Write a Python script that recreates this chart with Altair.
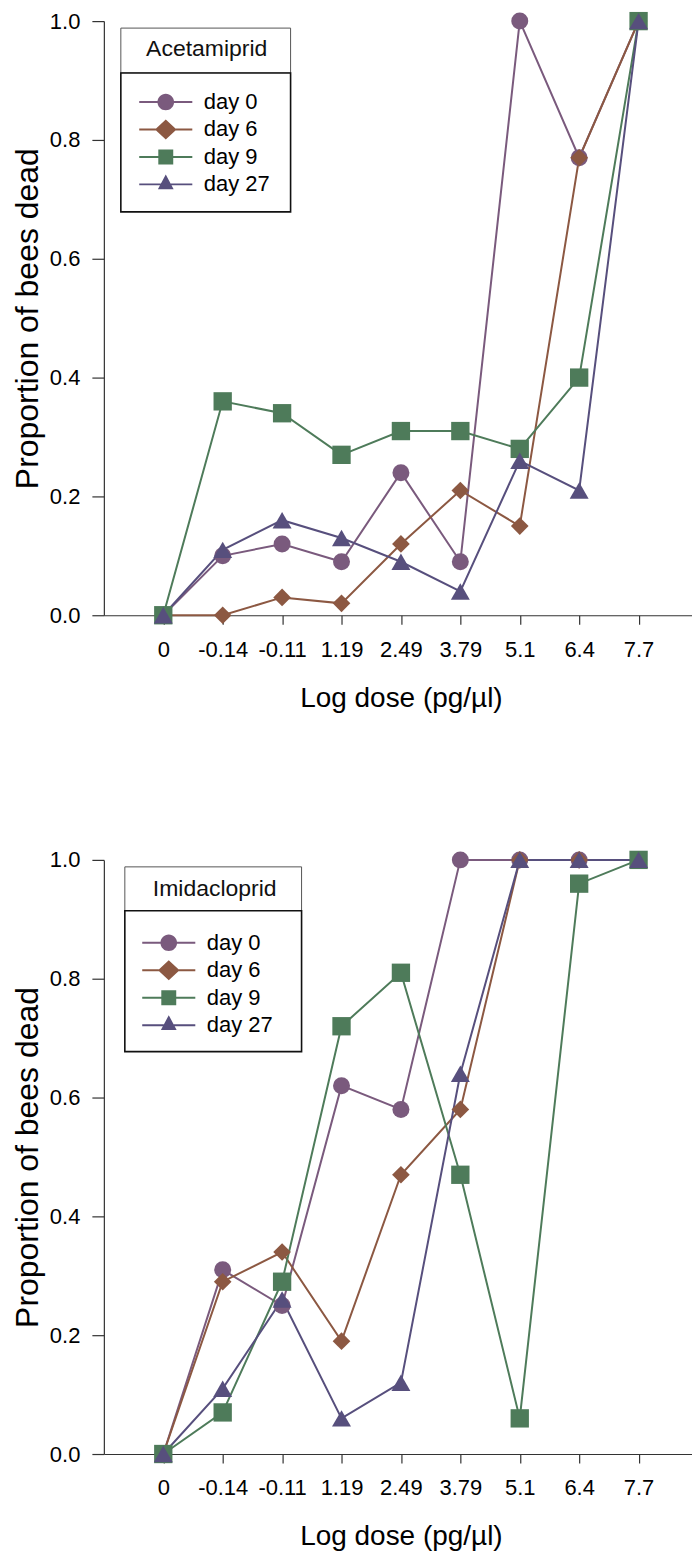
import altair as alt
import pandas as pd

FONT = "Liberation Sans"

doses = ["0", "-0.14", "-0.11", "1.19", "2.49", "3.79", "5.1", "6.4", "7.7"]
days = ["day 0", "day 6", "day 9", "day 27"]
colors = ["#7a5a7d", "#8c5842", "#4e7b5a", "#574f7d"]

acet_day0 = [0.00, 0.10, 0.12, 0.09, 0.24, 0.09, 1.00, 0.77, 1.00]
acet_day6 = [0.00, 0.00, 0.03, 0.02, 0.12, 0.21, 0.15, 0.77, 1.00]
acet_day9 = [0.00, 0.36, 0.34, 0.27, 0.31, 0.31, 0.28, 0.40, 1.00]
acet_day27 = [0.00, 0.11, 0.16, 0.13, 0.09, 0.04, 0.26, 0.21, 1.00]

imid_day0 = [0.00, 0.31, 0.25, 0.62, 0.58, 1.00, 1.00, 1.00, 1.00]
imid_day6 = [0.00, 0.29, 0.34, 0.19, 0.47, 0.58, 1.00, 1.00, 1.00]
imid_day9 = [0.00, 0.07, 0.29, 0.72, 0.81, 0.47, 0.06, 0.96, 1.00]
imid_day27 = [0.00, 0.11, 0.26, 0.06, 0.12, 0.64, 1.00, 1.00, 1.00]

plot_shapes = ["circle", "diamond", "square", "triangle-up"]
plot_sizes = [289, 361, 225, 324]

# legend symbols: marker with a line through it (unit box -1..1)
L = "M-3.2,-0.12H{a}V0.12H-3.2Z M{b},-0.12H3.2V0.12H{b}Z "
legend_shapes = [
    L.format(a=-0.95, b=0.95) + "M1,0A1,1,0,1,1,-1,0A1,1,0,1,1,1,0Z",
    L.format(a=-1.2, b=1.2) + "M-1.3,0L0,-1.2L1.3,0L0,1.2Z",
    L.format(a=-0.85, b=0.85) + "M-0.9,-0.9H0.9V0.9H-0.9Z",
    L.format(a=-0.6, b=0.6) + "M0,-1.2L0.95,0.6L-0.95,0.6Z",
]


def frame(series):
    rows = []
    for day, vals in zip(days, series):
        for i, (d, v) in enumerate(zip(doses, vals)):
            rows.append({"dose": d, "idx": i, "day": day, "prop": v})
    return pd.DataFrame(rows)


def panel(df, title, tx, ty, box, lx, ly):
    x = alt.X(
        "dose:N",
        sort=doses,
        scale=alt.Scale(type="point", domain=doses, padding=1),
        axis=alt.Axis(
            title="Log dose (pg/µl)", titleFont=FONT, titleFontSize=28,
            titleFontWeight="normal", titleColor="black", titlePadding=24,
            labelFont=FONT, labelFontSize=22, labelColor="black",
            labelPadding=15, labelAngle=0, tickSize=9, tickColor="#333",
            domainColor="#333", tickWidth=1.2, domainWidth=1.2, grid=False,
        ),
    )
    y = alt.Y(
        "prop:Q",
        scale=alt.Scale(domain=[0, 1], nice=False),
        axis=alt.Axis(
            values=[0, 0.2, 0.4, 0.6, 0.8, 1.0], format=".1f",
            title="Proportion of bees dead", titleFont=FONT, titleFontSize=32,
            titleFontWeight="normal", titleColor="black", titlePadding=5,
            labelFont=FONT, labelFontSize=22, labelColor="black",
            labelPadding=12, tickSize=12, tickColor="#333",
            domainColor="#333", tickWidth=1.2, domainWidth=1.2, grid=False,
        ),
    )
    cscale = alt.Scale(domain=days, range=colors)
    leg = alt.Legend(
        title=None, orient="none", legendX=lx, legendY=ly, padding=0,
        labelFont=FONT, labelFontSize=22, labelColor="black", labelLimit=300,
        symbolSize=276, symbolOffset=19, labelOffset=27, rowPadding=5.5,
        symbolStrokeWidth=0, symbolOpacity=1,
    )
    bx0, bx1, by0, bmid, by1 = box
    bdf = pd.DataFrame({"k": [0]})
    box_top = alt.Chart(bdf).mark_rect(fill="white", stroke="#555", strokeWidth=1).encode(
        x=alt.value(bx0), x2=alt.value(bx1), y=alt.value(by0), y2=alt.value(bmid))
    box_bot = alt.Chart(bdf).mark_rect(fill="white", stroke="#111", strokeWidth=1.6).encode(
        x=alt.value(bx0), x2=alt.value(bx1), y=alt.value(bmid), y2=alt.value(by1))
    ttl = alt.Chart(pd.DataFrame({"t": [title]})).mark_text(
        font=FONT, fontSize=23, color="#111", align="center", baseline="alphabetic"
    ).encode(text="t:N", x=alt.value(tx), y=alt.value(ty))

    lines = alt.Chart(df).mark_line(strokeWidth=2).encode(
        x=x, y=y, order=alt.Order("idx:Q"),
        color=alt.Color("day:N", scale=cscale, legend=None),
    )
    points = alt.Chart(df).mark_point(filled=True, opacity=1, strokeWidth=0).encode(
        x=x, y=y,
        color=alt.Color("day:N", scale=cscale, legend=None),
        shape=alt.Shape("day:N", scale=alt.Scale(domain=days, range=plot_shapes), legend=None),
        size=alt.Size("day:N", scale=alt.Scale(domain=days, range=plot_sizes), legend=None),
    )
    legend_layer = alt.Chart(df).mark_point(filled=True, opacity=0).encode(
        x=x, y=y,
        color=alt.Color("day:N", scale=cscale, legend=leg),
        shape=alt.Shape("day:N", scale=alt.Scale(domain=days, range=legend_shapes), legend=leg),
    )
    return alt.layer(box_top, box_bot, ttl, lines, points, legend_layer).resolve_scale(
        color="independent", shape="independent"
    ).properties(width=595, height=595)


top = panel(frame([acet_day0, acet_day6, acet_day9, acet_day27]), "Acetamiprid",
            103, 34.5, (17, 187, 7, 52, 191), 32, 70)
bottom = panel(frame([imid_day0, imid_day6, imid_day9, imid_day27]), "Imidacloprid",
               111, 35.7, (21, 198, 7, 51, 192), 35, 72)

chart = alt.vconcat(top, bottom, spacing=137).properties(
    padding={"left": 3, "top": 1, "right": -6, "bottom": 2}
).configure_view(stroke=None)

chart.save("out.html", embed_options={"renderer": "svg", "actions": False})
